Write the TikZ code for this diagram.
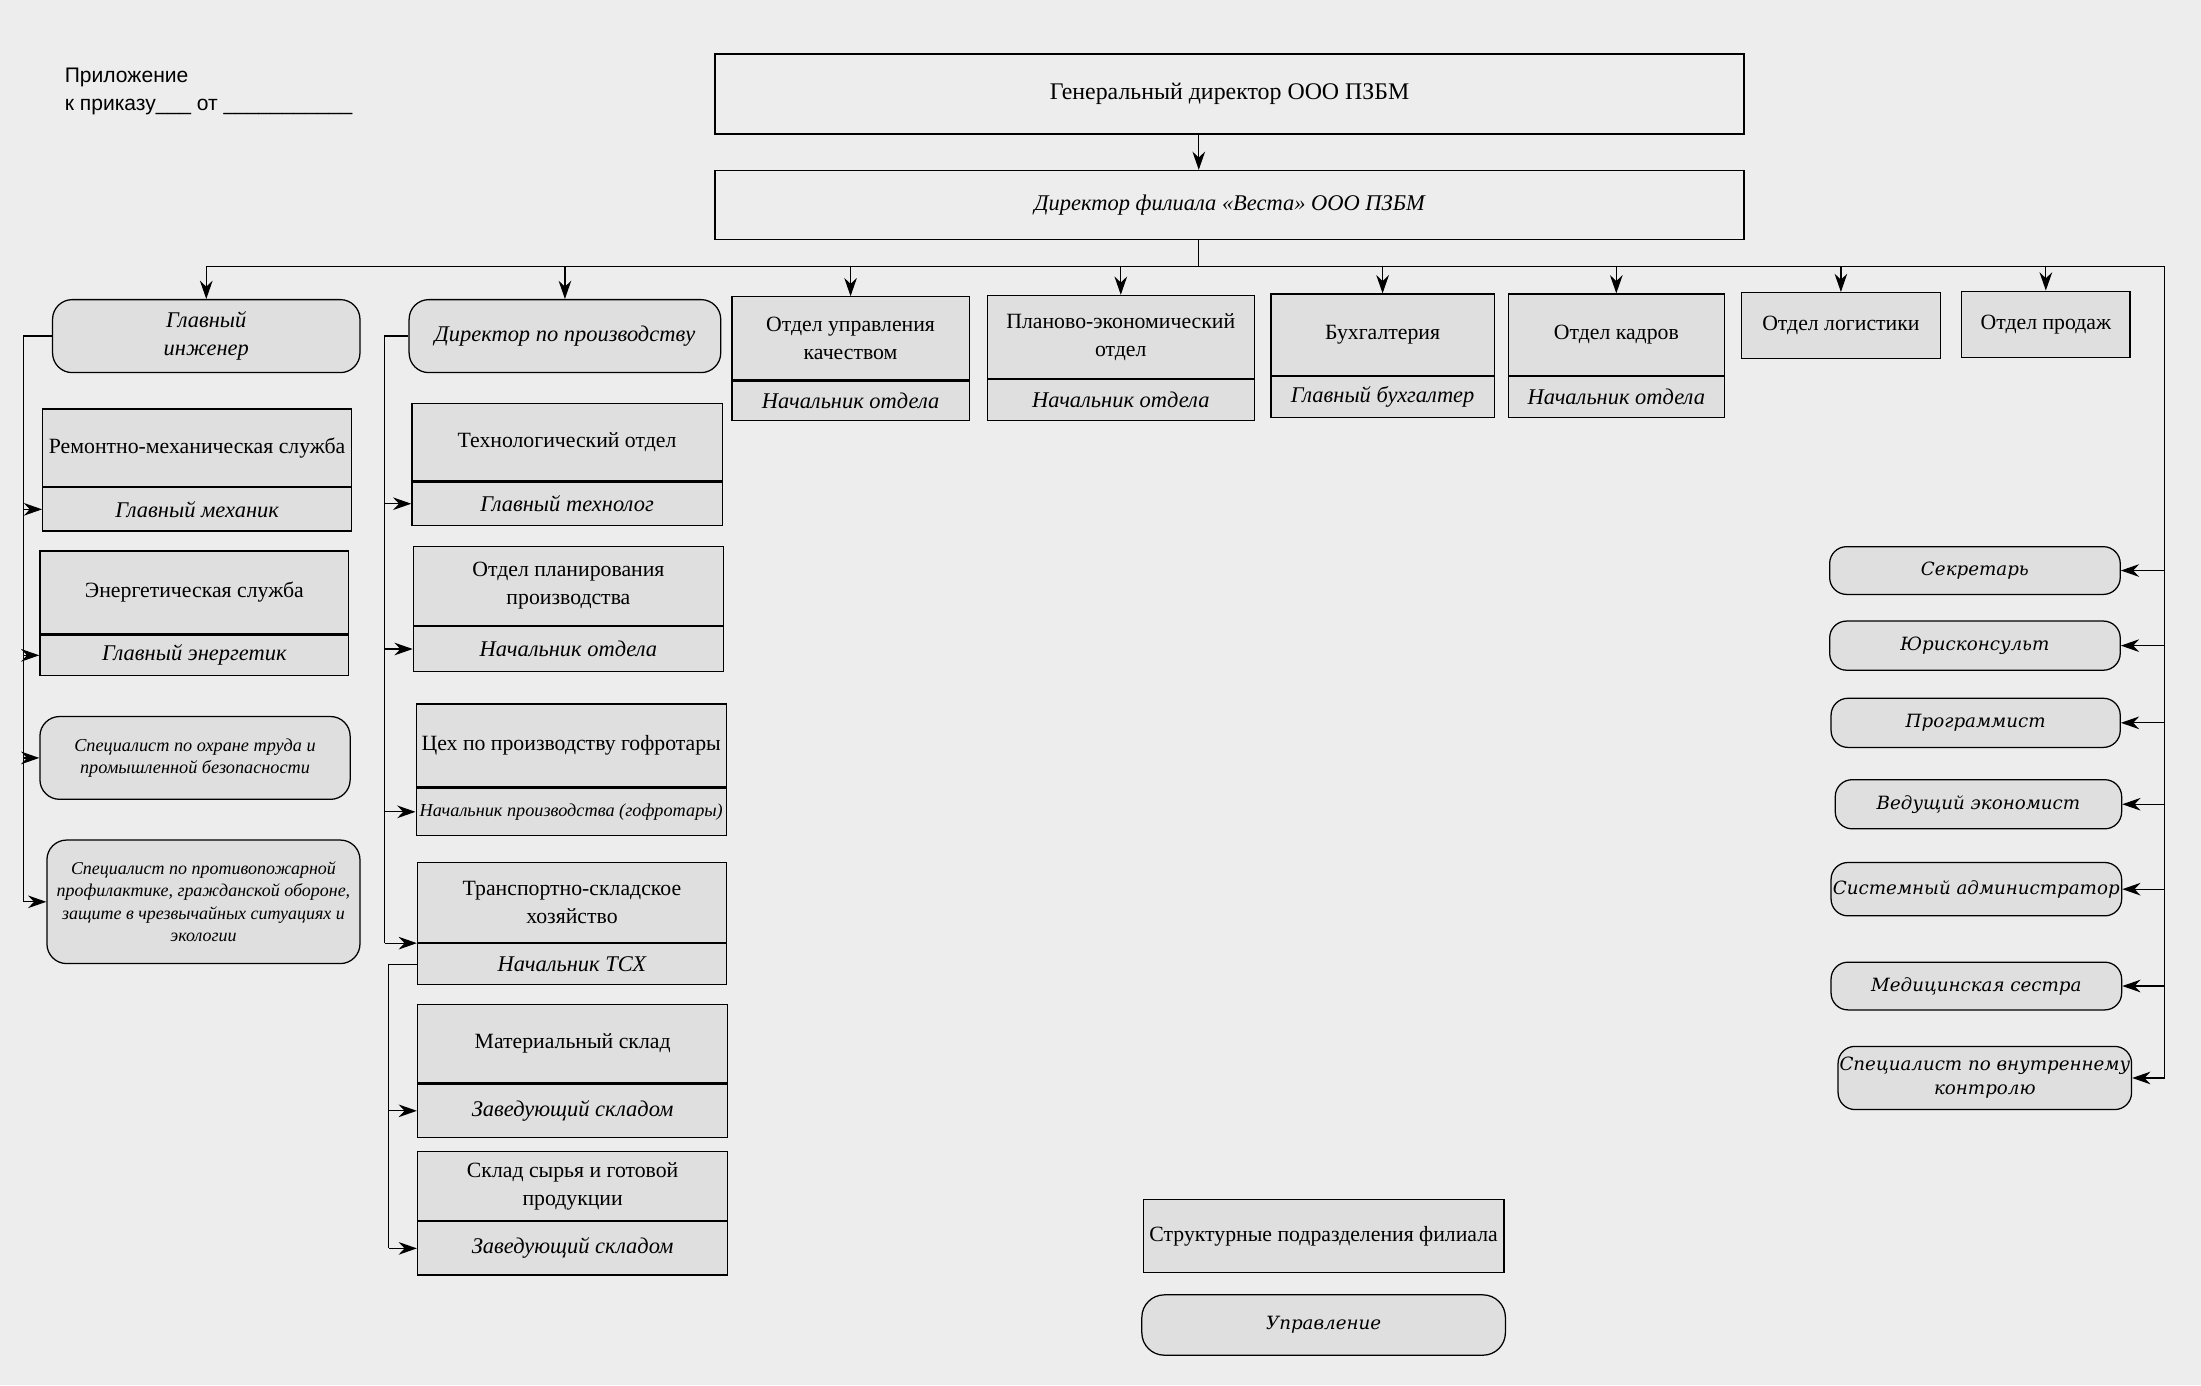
\documentclass[tikz,border=0pt]{standalone}
\usepackage{fontspec}
\setmainfont{Liberation Serif}
\newfontfamily\notefont{Liberation Sans}
\newfontfamily\staffont{DejaVu Serif}
\usepackage{tikz}
\usetikzlibrary{arrows.meta}
\definecolor{paperColor}{HTML}{EDEDED}
\definecolor{boxColor}{HTML}{DFDFDF}

\tikzset{
  unit/.style={draw, fill=boxColor, line width=0.9pt, inner sep=1pt, align=center,
    font=\fontsize{15.5}{20}\selectfont},
  head/.style={unit, font=\fontsize{16}{20}\selectfont\itshape},
  mgmt/.style={draw, fill=boxColor, line width=0.9pt, rounded corners=14pt, inner sep=1pt,
    align=center, font=\fontsize{16}{20}\selectfont\itshape},
  staff/.style={mgmt, rounded corners=12pt, font=\staffont\fontsize{13}{17}\selectfont\itshape},
  arr/.style={-{Stealth[length=13pt,width=9pt]}, line width=0.9pt},
  link/.style={line width=0.9pt}
}

% name, x, y, width, top height, bottom height, unit, head
\newcommand{\deptunit}[8]{%
  \node[unit, anchor=north west, minimum width=#4pt, minimum height=#5pt] (#1) at (#2,#3) {#7};
  \node[head, anchor=north, minimum width=#4pt, minimum height=#6pt] (#1h) at (#1.south) {#8};}

\begin{document}
\begin{tikzpicture}[x=1pt, y=-1pt]
    \useasboundingbox (0,0) rectangle (1568,987);
    \fill[paperColor] (0,0) rectangle (1568,987);

    \node[anchor=north west, align=left, inner sep=0pt,
        font=\notefont\fontsize{15}{20}\selectfont] (note) at (46,48)
        {Приложение\\к приказу\_\_\_ от \_\_\_\_\_\_\_\_\_\_\_};

    % top
    \node[draw, line width=0.9pt, anchor=north west, minimum width=733pt, minimum height=57pt,
        font=\fontsize{17}{20}\selectfont] (gen) at (509,38) {Генеральный директор ООО ПЗБМ};
    \node[draw, line width=0.9pt, anchor=north west, minimum width=733pt, minimum height=49pt,
        font=\fontsize{16}{20}\selectfont\itshape] (fil) at (509,121) {Директор филиала «Веста» ООО ПЗБМ};
    \coordinate (trunk) at (854,190);
    \draw[arr] (gen.south -| trunk) -- (fil.north -| trunk);
    \draw[link] (fil.south -| trunk) -- (trunk);

    % first row
    \node[mgmt, anchor=north west, minimum width=219pt, minimum height=52pt] (gi) at (37,213) {Главный\\инженер};
    \node[mgmt, anchor=north west, minimum width=222pt, minimum height=52pt] (dp) at (291,213) {Директор по производству};
    \deptunit{ouk}{521}{211}{169}{59}{28}{Отдел управления\\качеством}{Начальник отдела}
    \deptunit{pe}{703}{210}{190}{59}{29}{Планово-экономический\\отдел}{Начальник отдела}
    \deptunit{bux}{905}{209}{159}{58}{29}{Бухгалтерия}{Главный бухгалтер}
    \deptunit{ok}{1074}{209}{154}{58}{29}{Отдел кадров}{Начальник отдела}
    \node[unit, anchor=north west, minimum width=142pt, minimum height=47pt] (log) at (1240,208) {Отдел логистики};
    \node[unit, anchor=north west, minimum width=120pt, minimum height=47pt] (prod) at (1397,207) {Отдел продаж};

    \coordinate (busR) at (1542,190);
    \draw[link] (gi.north |- trunk) -- (busR);
    \foreach \n in {gi,dp,ouk,pe,bux,ok,log,prod}
        \draw[arr] (\n.north |- busR) -- (\n.north);

    % chief engineer
    \deptunit{rem}{30}{291}{220}{55}{31}{Ремонтно-механическая служба}{Главный механик}
    \deptunit{en}{28}{392}{220}{59}{29}{Энергетическая служба}{Главный энергетик}
    \node[mgmt, anchor=north west, minimum width=221pt, minimum height=59pt,
        font=\fontsize{13}{16}\selectfont\itshape] (ot) at (28,510)
        {Специалист по охране труда и\\промышленной безопасности};
    \node[mgmt, anchor=north west, minimum width=223pt, minimum height=88pt,
        font=\fontsize{12.8}{16}\selectfont\itshape] (pp) at (33,598)
        {Специалист по противопожарной\\профилактике, гражданской обороне,\\защите в чрезвычайных ситуациях и\\экологии};
    \draw[link] (gi.west) -- ++(-20,0) coordinate (lbus) -- (lbus |- pp.west);
    \foreach \n in {remh,enh,ot,pp}
        \draw[arr] (lbus |- \n.west) -- (\n.west);

    % production director
    \deptunit{tech}{293}{287}{221}{55}{31}{Технологический отдел}{Главный технолог}
    \deptunit{plan}{294}{389}{221}{56}{32}{Отдел планирования\\производства}{Начальник отдела}
    \node[unit, anchor=north west, minimum width=221pt, minimum height=59pt] (cex) at (296,501) {Цех по производству гофротары};
    \node[head, anchor=north, minimum width=221pt, minimum height=34pt,
        font=\fontsize{13}{16}\selectfont\itshape] (cexh) at (cex.south) {Начальник производства (гофротары)};
    \deptunit{tsk}{297}{614}{220}{57}{29}{Транспортно-складское\\хозяйство}{Начальник ТСХ}
    \draw[link] (dp.west) -- ++(-17,0) coordinate (mbus) -- (mbus |- tsk.south);
    \foreach \n in {techh,planh,cexh}
        \draw[arr] (mbus |- \n.west) -- (\n.west);
    \draw[arr] (mbus |- tsk.south) -- (tsk.south west);

    \deptunit{mat}{297}{715}{221}{56}{38}{Материальный склад}{Заведующий складом}
    \deptunit{syr}{297}{820}{221}{49}{38}{Склад сырья и готовой\\продукции}{Заведующий складом}
    \draw[link] (tskh.west) -- ++(-20,0) coordinate (sbus) -- (sbus |- syrh.west);
    \foreach \n in {math,syrh}
        \draw[arr] (sbus |- \n.west) -- (\n.west);

    % staff
    \node[staff, anchor=north west, minimum width=207pt, minimum height=34pt] (sek) at (1303,389) {Секретарь};
    \node[staff, anchor=north west, minimum width=207pt, minimum height=35pt] (yur) at (1303,442) {Юрисконсульт};
    \node[staff, anchor=north west, minimum width=206pt, minimum height=35pt] (prog) at (1304,497) {Программист};
    \node[staff, anchor=north west, minimum width=204pt, minimum height=35pt] (ved) at (1307,555) {Ведущий экономист};
    \node[staff, anchor=north west, minimum width=207pt, minimum height=38pt] (sys) at (1304,614) {Системный администратор};
    \node[staff, anchor=north west, minimum width=207pt, minimum height=34pt] (med) at (1304,685) {Медицинская сестра};
    \node[staff, anchor=north west, minimum width=206pt, minimum height=45pt] (vk) at (1309,745) {Специалист по внутреннему\\контролю};
    \draw[link] (busR) -- (busR |- vk.east);
    \foreach \n in {sek,yur,prog,ved,sys,med,vk}
        \draw[arr] (busR |- \n.east) -- (\n.east);

    % legend
    \node[unit, anchor=north west, minimum width=257pt, minimum height=52pt] (leg) at (814,854) {Структурные подразделения филиала};
    \node[staff, anchor=north west, minimum width=259pt, minimum height=43pt, rounded corners=16pt] (legm) at (813,922) {Управление};
\end{tikzpicture}
\end{document}
